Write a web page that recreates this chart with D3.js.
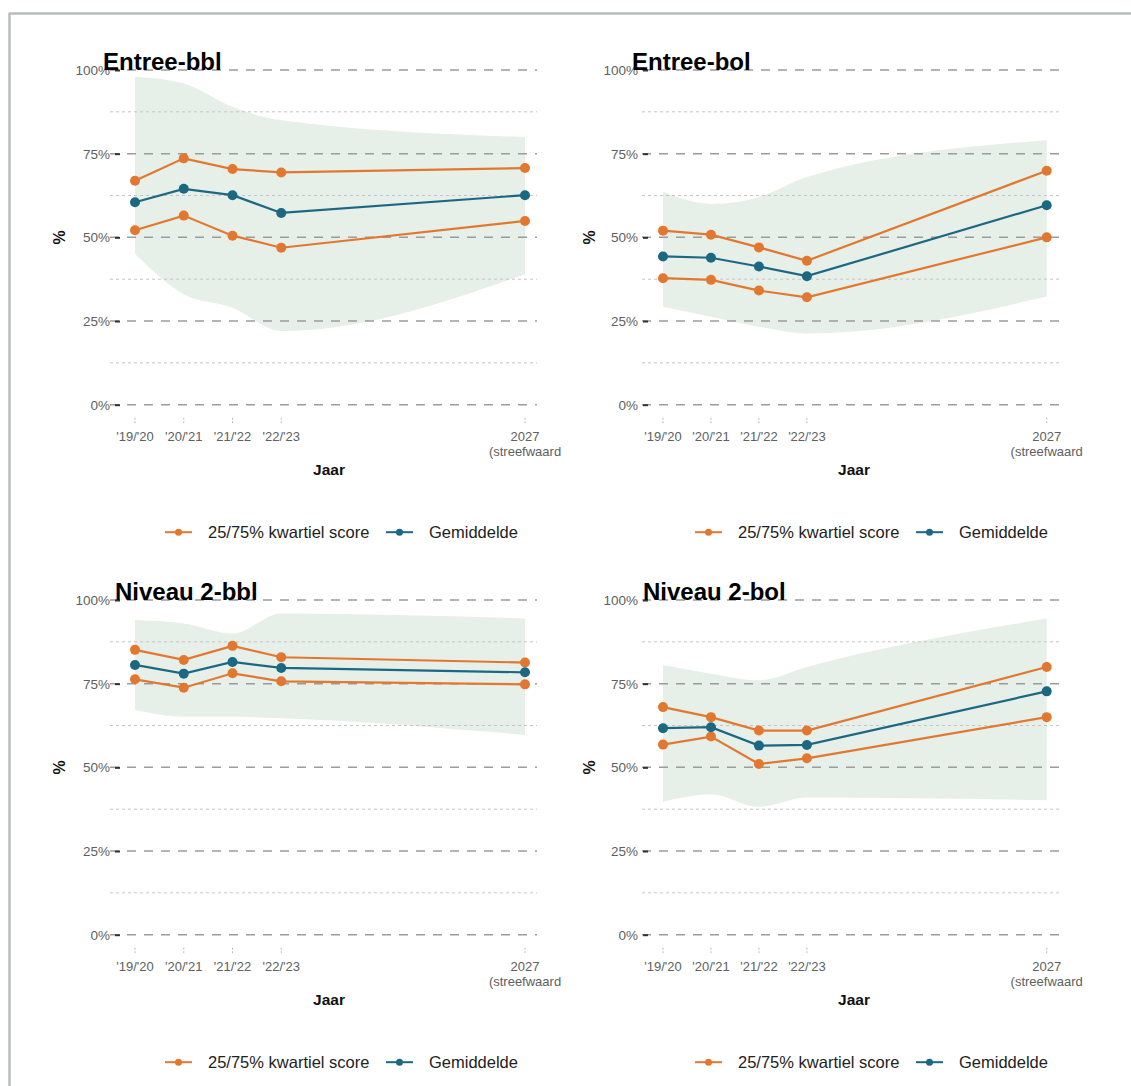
<!DOCTYPE html>
<html>
<head>
<meta charset="utf-8">
<script src="https://cdn.jsdelivr.net/npm/d3@7"></script>
<style>
  html, body { margin: 0; padding: 0; background: #ffffff; }
  svg { display: block; }
  text { font-family: "Liberation Sans", Arial, Helvetica, sans-serif; }
</style>
</head>
<body>
<svg id="chart" width="1131" height="1086"></svg>
<script>
// ---------------- DATA ----------------
const years = [2019, 2020, 2021, 2022, 2027];
const tickLabels = [["'19/'20"], ["'20/'21"], ["'21/'22"], ["'22/'23"], ["2027", "(streefwaard"]];
const yTicks = [0, 0.25, 0.5, 0.75, 1];
const yMinorTicks = [0.125, 0.375, 0.625, 0.875];
const panelTitles = ["Entree-bbl", "Entree-bol", "Niveau 2-bbl", "Niveau 2-bol"];
const legendLabels = ["25/75% kwartiel score", "Gemiddelde"];
const xAxisTitle = "Jaar";
const yAxisTitle = "%";

// Entree-bbl
const entreeBblQ75 = [0.669, 0.736, 0.704, 0.694, 0.707];
const entreeBblMean = [0.605, 0.645, 0.626, 0.573, 0.626];
const entreeBblQ25 = [0.521, 0.565, 0.505, 0.469, 0.549];
const entreeBblMax = [0.98, 0.96, 0.89, 0.85, 0.80];
const entreeBblMin = [0.45, 0.33, 0.29, 0.22, 0.39];

// Entree-bol
const entreeBolQ75 = [0.520, 0.508, 0.470, 0.430, 0.699];
const entreeBolMean = [0.443, 0.439, 0.413, 0.384, 0.596];
const entreeBolQ25 = [0.378, 0.373, 0.341, 0.321, 0.500];
const entreeBolMax = [0.636, 0.60, 0.62, 0.68, 0.79];
const entreeBolMin = [0.293, 0.263, 0.233, 0.213, 0.323];

// Niveau 2-bbl
const niveau2BblQ75 = [0.851, 0.821, 0.863, 0.829, 0.813];
const niveau2BblMean = [0.806, 0.780, 0.815, 0.797, 0.784];
const niveau2BblQ25 = [0.763, 0.738, 0.781, 0.757, 0.748];
const niveau2BblMax = [0.94, 0.93, 0.90, 0.96, 0.945];
const niveau2BblMin = [0.671, 0.651, 0.651, 0.647, 0.597];

// Niveau 2-bol
const niveau2BolQ75 = [0.680, 0.650, 0.610, 0.610, 0.800];
const niveau2BolMean = [0.617, 0.620, 0.565, 0.567, 0.727];
const niveau2BolQ25 = [0.568, 0.592, 0.510, 0.527, 0.650];
const niveau2BolMax = [0.806, 0.78, 0.76, 0.80, 0.945];
const niveau2BolMin = [0.397, 0.42, 0.382, 0.41, 0.402];

// ---------------- STYLE / LAYOUT ----------------
const orange = "#e2782f";
const teal = "#1c6882";
const ribbonFill = "#e7efe9";

const panels = [
  { title: panelTitles[0], q75: entreeBblQ75, mean: entreeBblMean, q25: entreeBblQ25, max: entreeBblMax, min: entreeBblMin,
    x0: 135, x1: 525, gl: 110, gr: 537, top: 70, labelRight: 105, yTitleX: 60, titleX: 103, jaarX: 329, legX: 165 },
  { title: panelTitles[1], q75: entreeBolQ75, mean: entreeBolMean, q25: entreeBolQ25, max: entreeBolMax, min: entreeBolMin,
    x0: 663, x1: 1046.7, gl: 642, gr: 1060, top: 70, labelRight: 633, yTitleX: 590, titleX: 632, jaarX: 854, legX: 695 },
  { title: panelTitles[2], q75: niveau2BblQ75, mean: niveau2BblMean, q25: niveau2BblQ25, max: niveau2BblMax, min: niveau2BblMin,
    x0: 135, x1: 525, gl: 110, gr: 537, top: 600, labelRight: 105, yTitleX: 60, titleX: 115, jaarX: 329, legX: 165 },
  { title: panelTitles[3], q75: niveau2BolQ75, mean: niveau2BolMean, q25: niveau2BolQ25, max: niveau2BolMax, min: niveau2BolMin,
    x0: 663, x1: 1046.7, gl: 642, gr: 1060, top: 600, labelRight: 633, yTitleX: 590, titleX: 643, jaarX: 854, legX: 695 }
];
const plotH = 334.7;

const svg = d3.select("#chart");

// outer frame (top + left visible)
svg.append("line").attr("x1", 9).attr("x2", 1131).attr("y1", 13.5).attr("y2", 13.5)
  .attr("stroke", "#b8bcc0").attr("stroke-width", 2.5);
svg.append("line").attr("x1", 9.5).attr("x2", 9.5).attr("y1", 13).attr("y2", 1086)
  .attr("stroke", "#b8bcc0").attr("stroke-width", 2.5);

panels.forEach(p => {
  const g = svg.append("g");
  const x = d3.scaleLinear().domain([years[0], years[years.length - 1]]).range([p.x0, p.x1]);
  const y = d3.scaleLinear().domain([0, 1]).range([p.top + plotH, p.top]);

  // ribbon (min/max band)
  const band = years.map((yr, i) => ({ yr, lo: p.min[i], hi: p.max[i] }));
  g.append("path").datum(band)
    .attr("fill", ribbonFill)
    .attr("d", d3.area().x(d => x(d.yr)).y0(d => y(d.lo)).y1(d => y(d.hi)).curve(d3.curveMonotoneX));

  // minor gridlines
  g.selectAll(".minor").data(yMinorTicks).join("line")
    .attr("x1", p.gl).attr("x2", p.gr)
    .attr("y1", d => y(d)).attr("y2", d => y(d))
    .attr("stroke", "#c4c4c4").attr("stroke-width", 1).attr("stroke-dasharray", "3,3");

  // major gridlines
  g.selectAll(".major").data(yTicks).join("line")
    .attr("x1", p.gl).attr("x2", p.gr)
    .attr("y1", d => y(d)).attr("y2", d => y(d))
    .attr("stroke", "#9c9c9c").attr("stroke-width", 1.5).attr("stroke-dasharray", "9,8");

  // y axis ticks + labels via d3.axisLeft
  const yAxis = d3.axisLeft(y).tickValues(yTicks).tickFormat(d3.format(".0%")).tickSize(5).tickPadding(4);
  const ya = g.append("g").attr("transform", `translate(${p.labelRight + 10},0)`).call(yAxis);
  ya.select(".domain").remove();
  ya.selectAll(".tick line").attr("stroke", "#333").attr("stroke-width", 2).attr("x1", 0).attr("x2", 5);
  ya.selectAll(".tick text").attr("x", -5).attr("fill", "#606060").attr("font-size", "13.5px")
    .style("font-family", '"Liberation Sans", Arial, sans-serif');

  // x axis ticks + labels
  const xAxis = d3.axisBottom(x).tickValues(years).tickSize(0).tickFormat("");
  const xa = g.append("g").attr("transform", `translate(0,${p.top + plotH})`).call(xAxis);
  xa.select(".domain").remove();
  years.forEach((yr, i) => {
    g.append("line").attr("x1", x(yr)).attr("x2", x(yr))
      .attr("y1", p.top + plotH + 13).attr("y2", p.top + plotH + 20)
      .attr("stroke", "#bbbbbb").attr("stroke-width", 1).attr("stroke-dasharray", "2,1.5");
    const t = g.append("text").attr("x", x(yr)).attr("y", p.top + plotH + 36.5)
      .attr("text-anchor", "middle").attr("fill", "#606060").attr("font-size", "13px");
    tickLabels[i].forEach((s, j) => {
      t.append("tspan").attr("x", x(yr)).attr("dy", j === 0 ? 0 : 15).text(s);
    });
  });

  // axis titles
  g.append("text").attr("x", p.jaarX).attr("y", p.top + plotH + 70)
    .attr("text-anchor", "middle").attr("font-weight", "bold").attr("font-size", "15.5px").attr("fill", "#111")
    .text(xAxisTitle);
  g.append("text").attr("transform", `translate(${p.yTitleX + 5},${p.top + plotH / 2}) rotate(-90)`)
    .attr("text-anchor", "middle").attr("font-weight", "bold").attr("font-size", "16px").attr("fill", "#111")
    .text(yAxisTitle);

  // panel title
  g.append("text").attr("x", p.titleX).attr("y", p.top)
    .attr("font-weight", "bold").attr("font-size", "24px").attr("fill", "#000")
    .text(p.title);

  // series
  const series = [
    { vals: p.q75, color: orange },
    { vals: p.q25, color: orange },
    { vals: p.mean, color: teal }
  ];
  const line = d3.line().x(d => x(d.yr)).y(d => y(d.v));
  series.forEach(s => {
    const pts = years.map((yr, i) => ({ yr, v: s.vals[i] }));
    g.append("path").datum(pts).attr("fill", "none").attr("stroke", s.color)
      .attr("stroke-width", 2.2).attr("d", line);
    g.selectAll(null).data(pts).join("circle")
      .attr("cx", d => x(d.yr)).attr("cy", d => y(d.v)).attr("r", 5).attr("fill", s.color);
  });

  // legend
  const ly = p.top + plotH + 127.5;
  const leg = g.append("g");
  const items = [
    { label: legendLabels[0], color: orange, x: p.legX },
    { label: legendLabels[1], color: teal, x: p.legX + 221 }
  ];
  items.forEach(it => {
    leg.append("line").attr("x1", it.x).attr("x2", it.x + 27).attr("y1", ly).attr("y2", ly)
      .attr("stroke", it.color).attr("stroke-width", 2);
    leg.append("circle").attr("cx", it.x + 13.5).attr("cy", ly).attr("r", 3.5).attr("fill", it.color);
    leg.append("text").attr("x", it.x + 43).attr("y", ly + 5.5).attr("font-size", "16.5px").attr("fill", "#222")
      .text(it.label);
  });
});
</script>
</body>
</html>
